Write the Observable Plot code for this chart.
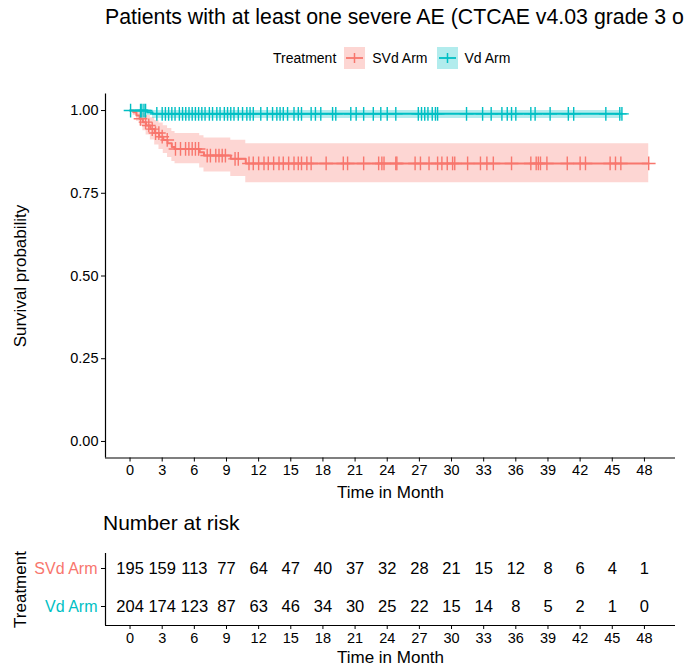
<!DOCTYPE html>
<html>
<head>
<meta charset="utf-8">
<script src="https://cdn.jsdelivr.net/npm/d3@7"></script>
<script src="https://cdn.jsdelivr.net/npm/@observablehq/plot@0.6"></script>
<style>
  html, body { margin: 0; padding: 0; background: #fff; overflow: hidden; }
  #root { position: relative; width: 685px; height: 670px; font-family: "Liberation Sans", Arial, sans-serif; color: #000; }
  .abs { position: absolute; white-space: nowrap; }
  #title { left: 105px; top: 5px; font-size: 21.3px; }
  #legend { left: 273px; top: 47px; height: 22px; display: flex; align-items: center; font-size: 14px; }
  #risktitle { left: 103px; top: 511px; font-size: 21px; }
  #main { left: 0; top: 80px; }
  #risk { left: 0; top: 540px; }
</style>
</head>
<body>
<div id="root">
  <div id="title" class="abs"></div>
  <div id="legend" class="abs"></div>
  <div id="main" class="abs"></div>
  <div id="risktitle" class="abs"></div>
  <div id="risk" class="abs"></div>
</div>
<script>
// ---------- data ----------
const titleText = "Patients with at least one severe AE (CTCAE v4.03 grade 3 o";
const legendTitle = "Treatment";
const riskTitle = "Number at risk";
const xLabel = "Time in Month";
const yLabel = "Survival probability";
const groups = ["SVd Arm", "Vd Arm"];
const colors = ["#F8766D", "#00BFC4"];

const svdTime  = [0, 0.3, 0.6, 0.9, 1.2, 1.5, 1.9, 2.3, 2.7, 3.1, 3.5, 3.9, 4.2, 6.5, 6.9, 9.4, 10.8, 48.4];
const svdSurv  = [1, .995, .985, .975, .965, .955, .944, .932, .921, .911, .901, .890, .884, .874, .864, .854, .840, .840];
const svdLower = [1, .985, .968, .953, .939, .926, .911, .896, .882, .870, .858, .846, .839, .826, .814, .801, .782, .782];
const svdUpper = [1, 1, 1, .997, .992, .985, .978, .970, .962, .954, .946, .937, .931, .924, .917, .910, .900, .900];

const vdTime  = [0, 1.6, 2.1, 45.9];
const vdSurv  = [1, .995, .990, .990];
const vdLower = [1, .985, .976, .976];
const vdUpper = [1, 1, 1, 1];

const svdCensor = [0.98, 1.45, 1.75, 2.07, 2.38, 2.69, 3.0, 3.47, 4.24, 4.71, 5.18, 5.49, 5.8, 6.1, 6.4,
  7.2, 7.5, 8.0, 8.3, 8.6, 8.9, 9.8, 10.1, 11.1, 11.5, 12.0, 12.5, 12.9, 13.4, 13.9, 14.3, 14.8, 15.3, 15.7,
  16.0, 16.5, 16.9, 18.3, 19.9, 20.3, 21.8, 23.2, 23.5, 23.7, 24.8, 24.9, 26.6, 27.1, 27.9, 28.7, 29.1, 29.6,
  30.1, 30.3, 31.5, 32.7, 33.3, 33.9, 35.6, 37.4, 37.9, 38.1, 38.3, 38.9, 40.8, 42.0, 42.5, 44.8, 45.3, 45.8, 48.4];
const vdCensor = [0.05, 0.98, 1.1, 1.3, 1.45, 2.5, 3.0, 3.3, 3.6, 3.9, 4.2, 4.6, 4.9, 5.2, 5.5, 5.8, 6.1, 6.4,
  6.7, 7.0, 7.4, 7.7, 8.1, 8.4, 8.8, 9.1, 9.4, 9.7, 10.1, 10.5, 10.9, 11.2, 11.5, 12.2, 12.8, 13.3, 13.7, 14.0,
  14.3, 14.7, 15.3, 15.7, 16.0, 16.9, 17.3, 17.8, 18.9, 19.2, 20.6, 21.1, 21.8, 22.7, 23.4, 24.0, 24.8, 26.9,
  27.2, 27.5, 27.8, 28.2, 28.5, 28.7, 31.4, 32.9, 33.7, 34.7, 35.2, 35.6, 36.0, 37.4, 37.8, 39.2, 40.9, 41.4,
  44.4, 45.7, 45.9];

const xTicks = [0, 3, 6, 9, 12, 15, 18, 21, 24, 27, 30, 33, 36, 39, 42, 45, 48];
const yTicks = [0, 0.25, 0.5, 0.75, 1];
const riskTimes = xTicks;
const svdRisk = [195, 159, 113, 77, 64, 47, 40, 37, 32, 28, 21, 15, 12, 8, 6, 4, 1];
const vdRisk  = [204, 174, 123, 87, 63, 46, 34, 30, 25, 22, 15, 14, 8, 5, 2, 1, 0];

// ---------- build tables ----------
function curve(g, time, surv, lo, hi) {
  return time.map((t, i) => ({group: g, t, s: surv[i], lo: lo[i], hi: hi[i]}));
}
const curves = [
  curve(groups[0], svdTime, svdSurv, svdLower, svdUpper),
  curve(groups[1], vdTime, vdSurv, vdLower, vdUpper)
];
function survAt(c, t) {
  let s = c[0].s;
  for (const d of c) if (d.t <= t) s = d.s;
  return s;
}
const censors = [
  ...svdCensor.map(t => ({group: groups[0], t, s: survAt(curves[0], t)})),
  ...vdCensor.map(t => ({group: groups[1], t, s: survAt(curves[1], t)}))
];
const allCurve = curves.flat();
const risk = [
  ...riskTimes.map((t, i) => ({group: groups[0], row: 1, t, n: svdRisk[i]})),
  ...riskTimes.map((t, i) => ({group: groups[1], row: 0, t, n: vdRisk[i]}))
];

const xDomain = [-2.29, 50.9];
const yDomain = [-0.05, 1.05];
const colorScale = {domain: groups, range: colors};
const font = "Liberation Sans, Arial, sans-serif";
const tickFont = 14.5;
const labelFont = 17;

// ---------- title & legend ----------
document.getElementById("title").textContent = titleText;
document.getElementById("risktitle").textContent = riskTitle;
const leg = document.getElementById("legend");
const lt = document.createElement("span");
lt.textContent = legendTitle;
lt.style.marginRight = "8px";
leg.appendChild(lt);
groups.forEach((g, i) => {
  const ns = "http://www.w3.org/2000/svg";
  const svg = document.createElementNS(ns, "svg");
  svg.setAttribute("width", 21); svg.setAttribute("height", 22);
  svg.style.marginRight = "7px";
  svg.innerHTML = `<rect x="0" y="0" width="21" height="22" fill="${colors[i]}" fill-opacity="0.3"/>
    <line x1="2" x2="19" y1="11" y2="11" stroke="${colors[i]}" stroke-width="1.8"/>
    <line x1="10.5" x2="10.5" y1="6" y2="16" stroke="${colors[i]}" stroke-width="1.5"/>`;
  leg.appendChild(svg);
  const sp = document.createElement("span");
  sp.textContent = g;
  sp.style.marginRight = i === 0 ? "9px" : "0";
  leg.appendChild(sp);
});

// ---------- main plot ----------
const main = Plot.plot({
  width: 685, height: 430,
  marginLeft: 105, marginRight: 10, marginTop: 13.5, marginBottom: 52.5,
  style: {fontFamily: font, background: "transparent", color: "#000"},
  x: {domain: xDomain},
  y: {domain: yDomain},
  color: colorScale,
  marks: [
    Plot.areaY(allCurve, {x: "t", y1: "lo", y2: "hi", z: "group", fill: "group", fillOpacity: 0.3, curve: "step-after"}),
    Plot.line(allCurve, {x: "t", y: "s", z: "group", stroke: "group", strokeWidth: 2, curve: "step-after"}),
    Plot.dot(censors, {x: "t", y: "s", stroke: "group", symbol: "plus", r: 4.5, strokeWidth: 1.4}),
    Plot.ruleX([xDomain[0]], {stroke: "#000", strokeWidth: 1.2}),
    Plot.ruleY([yDomain[0]], {stroke: "#000", strokeWidth: 1.2}),
    Plot.axisX({ticks: xTicks, tickSize: 4, tickPadding: 3, fontSize: tickFont, label: null, fill: "#000"}),
    Plot.axisY({ticks: yTicks, tickFormat: d3.format(".2f"), tickSize: 4, tickPadding: 3, fontSize: tickFont, label: null, fill: "#000"}),
    Plot.text([xLabel], {frameAnchor: "bottom", lineAnchor: "middle", textAnchor: "middle", dy: 34.5, fontSize: labelFont, fill: "#000"}),
    Plot.text([yLabel], {frameAnchor: "left", lineAnchor: "middle", textAnchor: "middle", rotate: -90, dx: -85, fontSize: labelFont, fill: "#000"})
  ]
});
document.getElementById("main").appendChild(main);

// ---------- risk table ----------
const riskYDomain = [-0.5, 1.395];
const riskPlot = Plot.plot({
  width: 685, height: 130,
  marginLeft: 105, marginRight: 10, marginTop: 13, marginBottom: 45,
  style: {fontFamily: font, background: "transparent", color: "#000"},
  x: {domain: xDomain},
  y: {domain: riskYDomain},
  color: colorScale,
  marks: [
    Plot.text(risk, {x: "t", y: "row", text: "n", fontSize: 16.5, fill: "#000"}),
    Plot.text(groups.map((g, i) => ({g, row: 1 - i})), {y: "row", text: "g", frameAnchor: "left", dx: -8, textAnchor: "end", fontSize: 16, fill: (d, i) => colors[i]}),
    Plot.ruleX([xDomain[0]], {stroke: "#000", strokeWidth: 1.2}),
    Plot.ruleY([riskYDomain[0]], {stroke: "#000", strokeWidth: 1.2}),
    Plot.axisX({ticks: xTicks, tickSize: 4, tickPadding: 3, fontSize: tickFont, label: null, fill: "#000"}),
    Plot.axisY({ticks: [0, 1], tickFormat: () => "", tickSize: 4, label: null}),
    Plot.text([xLabel], {frameAnchor: "bottom", lineAnchor: "middle", textAnchor: "middle", dy: 32, fontSize: labelFont, fill: "#000"}),
    Plot.text([legendTitle], {frameAnchor: "left", lineAnchor: "middle", textAnchor: "middle", rotate: -90, dx: -85, fontSize: labelFont, fill: "#000"})
  ]
});
document.getElementById("risk").appendChild(riskPlot);
</script>
</body>
</html>
